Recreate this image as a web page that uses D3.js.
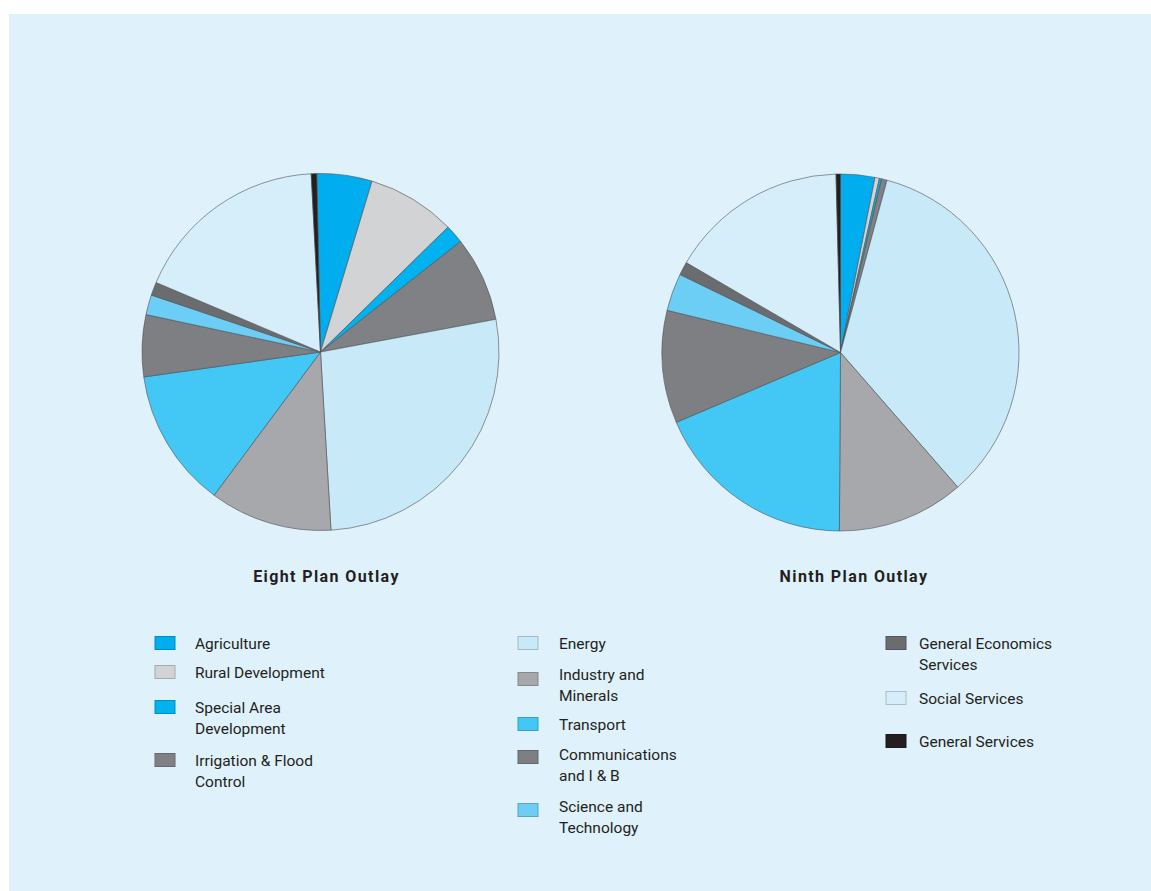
<!DOCTYPE html>
<html>
<head>
<meta charset="utf-8">
<script src="https://cdn.jsdelivr.net/npm/d3@7"></script>
<style>
  html, body { margin: 0; padding: 0; background: #ffffff; }
  svg { display: block; }
  text { font-family: Roboto, "DejaVu Sans", sans-serif; fill: #231f20; }
</style>
</head>
<body>
<svg id="chart" width="1151" height="891"></svg>
<script>
// ---- data ----
const categories = [
  "Agriculture", "Rural Development", "Special Area Development",
  "Irrigation & Flood Control", "Energy", "Industry and Minerals",
  "Transport", "Communications and I & B", "Science and Technology",
  "General Economics Services", "Social Services", "General Services"
];
const eighthPlan = [5.0, 8.0, 1.7, 7.7, 27.0, 11.1, 12.6, 5.6, 1.8, 1.2, 17.8, 0.5];
const ninthPlan  = [3.1, 0.4, 0.2, 0.5, 34.4, 11.5, 18.5, 10.2, 3.4, 1.2, 16.2, 0.4];
const pieTitles = ["Eight Plan Outlay", "Ninth Plan Outlay"];
const legendLabels = [
  ["Agriculture"], ["Rural Development"], ["Special Area", "Development"],
  ["Irrigation & Flood", "Control"], ["Energy"], ["Industry and", "Minerals"],
  ["Transport"], ["Communications", "and I & B"], ["Science and", "Technology"],
  ["General Economics", "Services"], ["Social Services"], ["General Services"]
];
const colors = [
  "#00aeef", "#d1d3d4", "#00b2ef", "#7f8185", "#c7e9f8", "#a6a8ab",
  "#43c7f4", "#7d7f83", "#6ccef5", "#6b6c70", "#d5eefa", "#231f20"
];

// ---- layout ----
const svg = d3.select("#chart");
svg.append("rect").attr("x", 9).attr("y", 14).attr("width", 1142).attr("height", 877)
  .attr("fill", "#dff1fb");

const color = d3.scaleOrdinal().domain(categories).range(colors);
const R = 178.5;
const pies = [
  { values: eighthPlan, cx: 320.5, cy: 352, start: -1.2, title: pieTitles[0], tx: 326.5 },
  { values: ninthPlan,  cx: 840.5, cy: 352.5, start: 0, title: pieTitles[1], tx: 854 }
];
const arc = d3.arc().innerRadius(0).outerRadius(R);

pies.forEach(p => {
  const pie = d3.pie().sort(null).value(d => d.v)
    .startAngle(p.start * Math.PI / 180)
    .endAngle(p.start * Math.PI / 180 + 2 * Math.PI);
  const data = categories.map((c, i) => ({ c, v: p.values[i] }));
  const g = svg.append("g").attr("transform", `translate(${p.cx},${p.cy})`);
  g.selectAll("path").data(pie(data)).join("path")
    .attr("d", arc)
    .attr("fill", d => color(d.data.c))
    .attr("stroke", "#505054")
    .attr("stroke-width", 0.6)
    .attr("stroke-linejoin", "round");
  svg.append("text")
    .attr("x", p.tx).attr("y", 581.5)
    .attr("text-anchor", "middle")
    .attr("font-size", 16).attr("font-weight", "bold")
    .attr("letter-spacing", 1.4)
    .text(p.title);
});

// ---- legend ----
const legendCols = [
  { x: 155, tx: 195, items: [0, 1, 2, 3], rows: [643, 672, 707, 760] },
  { x: 518, tx: 559, items: [4, 5, 6, 7, 8], rows: [643, 674, 724, 754, 806] },
  { x: 886, tx: 919, items: [9, 10, 11], rows: [643, 698, 741] }
];
const swatchOffsets = [
  [0, 0, 0, 0],
  [0, 5, 0, 3, 4],
  [0, 0, 0]
];
legendCols.forEach((col, ci) => {
  col.items.forEach((idx, k) => {
    const y = col.rows[k];
    const lines = legendLabels[idx];
    const sy = y + swatchOffsets[ci][k];
    svg.append("rect")
      .attr("x", col.x).attr("y", sy - 6.5).attr("width", 20).attr("height", 13)
      .attr("fill", color(categories[idx]))
      .attr("stroke", d3.color(color(categories[idx])).darker(0.6))
      .attr("stroke-width", 1);
    const t = svg.append("text")
      .attr("x", col.tx).attr("y", y + 5.5)
      .attr("font-size", 15.5);
    lines.forEach((ln, li) => {
      t.append("tspan").attr("x", col.tx).attr("dy", li === 0 ? 0 : 21.5).text(ln);
    });
  });
});
</script>
</body>
</html>
